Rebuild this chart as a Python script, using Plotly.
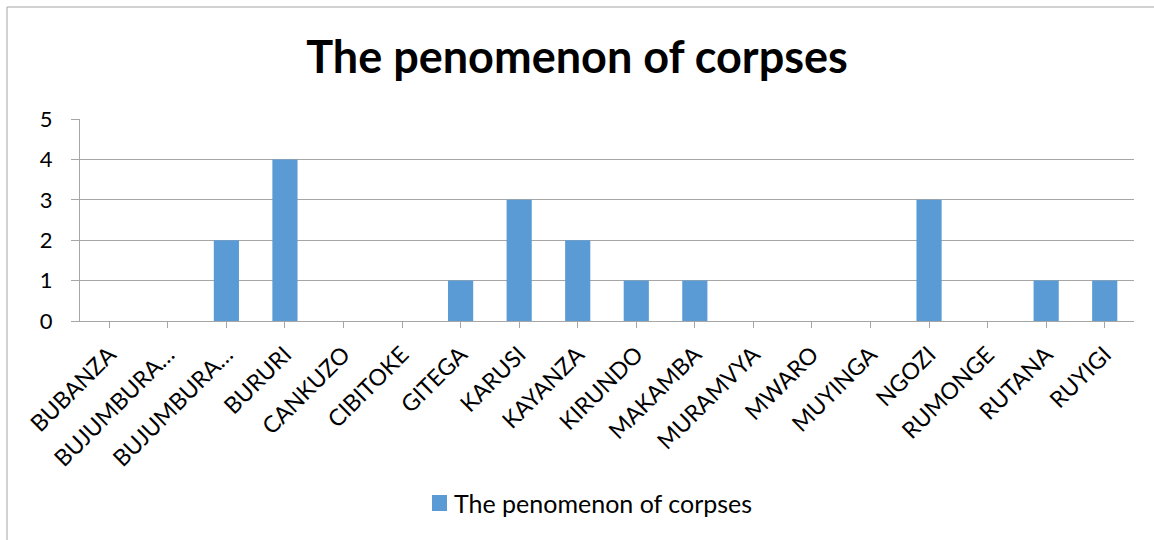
import plotly.graph_objects as go

categories = ["BUBANZA", "BUJUMBURA…", "BUJUMBURA…", "BURURI", "CANKUZO", "CIBITOKE",
              "GITEGA", "KARUSI", "KAYANZA", "KIRUNDO", "MAKAMBA", "MURAMVYA", "MWARO",
              "MUYINGA", "NGOZI", "RUMONGE", "RUTANA", "RUYIGI"]
values = [0, 0, 2, 4, 0, 0, 1, 3, 2, 1, 1, 0, 0, 0, 3, 0, 1, 1]
series_name = "The penomenon of corpses"
title_text = "The penomenon of corpses"

BAR_COLOR = "#5B9BD5"
L, R, T, B = 80, 20, 119, 219
PW, PH = 1154 - L - R, 540 - T - B


def px_x(p):
    return (p - L) / PW


def px_y(p):
    return (540 - B - p) / PH


x_idx = list(range(len(categories)))

fig = go.Figure()
fig.add_trace(go.Bar(
    x=x_idx, y=values, name=series_name,
    marker=dict(color=BAR_COLOR, line=dict(width=0)),
    width=0.43,
    showlegend=False,
))

fig.update_layout(
    width=1154, height=540,
    paper_bgcolor="white", plot_bgcolor="white",
    margin=dict(l=L, r=R, t=T, b=B, autoexpand=False),
    font=dict(family="Lato", color="#000000"),
    title=dict(text="<b>" + title_text + "</b>", x=0.5, xanchor="center",
               y=1 - 57 / 540, yanchor="middle", font=dict(size=45, family="Lato")),
    xaxis=dict(
        tickmode="array", tickvals=x_idx, ticktext=categories,
        range=[-0.5, len(categories) - 0.5],
        tickangle=-45, tickfont=dict(size=23),
        ticks="outside", tickson="boundaries", ticklen=6, tickcolor="#A6A6A6",
        showline=True, linecolor="#A6A6A6", linewidth=1,
        showgrid=False, zeroline=False, ticklabelstandoff=4,
    ),
    yaxis=dict(
        range=[0, 5], dtick=1, tickfont=dict(size=22),
        ticks="outside", ticklen=8, tickcolor="#A6A6A6",
        showline=True, linecolor="#A6A6A6", linewidth=1,
        showgrid=True, gridcolor="#A6A6A6", gridwidth=1,
        zeroline=False, ticklabelstandoff=14,
    ),
    shapes=[
        dict(type="rect", xref="paper", yref="paper",
             x0=px_x(7), x1=1.2, y0=-2, y1=px_y(7),
             line=dict(color="#A6A6A6", width=1), fillcolor="rgba(0,0,0,0)", layer="below"),
        dict(type="rect", xref="paper", yref="paper",
             x0=px_x(432), x1=px_x(447), y0=px_y(511), y1=px_y(495),
             line=dict(width=0), fillcolor=BAR_COLOR),
    ],
    annotations=[
        dict(text=series_name, xref="paper", yref="paper", x=px_x(452), y=px_y(503),
             xanchor="left", yanchor="middle", showarrow=False, font=dict(size=25)),
    ],
)

fig.write_html("out.html", config={"displayModeBar": False},
               post_script="document.body.style.margin='0';document.body.style.overflow='hidden';")
